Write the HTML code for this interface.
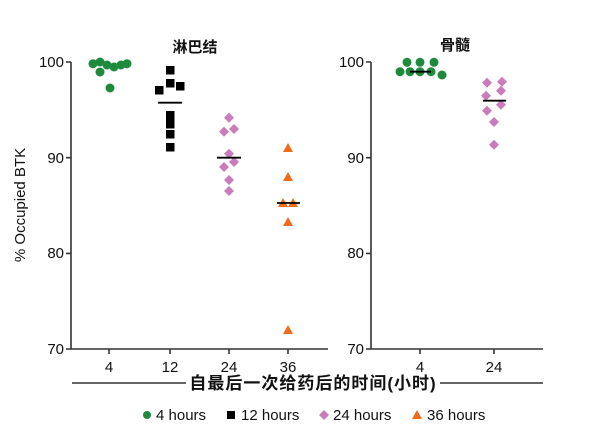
<!DOCTYPE html>
<html><head><meta charset="utf-8"><style>body{margin:0;background:#fff}svg{display:block}</style></head><body>
<svg width="615" height="443" xmlns="http://www.w3.org/2000/svg" font-family="Liberation Sans, Noto Sans CJK SC, sans-serif">
<g stroke="#333" stroke-width="1.6" fill="none">
<path d="M71 62V349H328"/><path d="M371 62V349H543"/>
<path d="M66 62H71M66 157.7H71M66 253.4H71M66 349H71"/>
<path d="M366 62H371M366 157.7H371M366 253.4H371M366 349H371"/>
<path d="M109 349v5M170 349v5M229 349v5M288 349v5M420 349v5M494 349v5"/>
</g>
<g font-size="15" fill="#111" text-anchor="end">
<text x="64" y="67">100</text><text x="64" y="163">90</text><text x="64" y="258">80</text><text x="64" y="354">70</text>
<text x="364" y="67">100</text><text x="364" y="163">90</text><text x="364" y="258">80</text><text x="364" y="354">70</text>
</g>
<g font-size="15" fill="#111" text-anchor="middle">
<text x="109" y="372">4</text><text x="170" y="372">12</text><text x="229" y="372">24</text><text x="288" y="372">36</text>
<text x="420" y="372">4</text><text x="494" y="372">24</text>
<text x="195" y="52" font-weight="bold" font-size="15">淋巴结</text>
<text x="455" y="50" font-weight="bold" font-size="15">骨髓</text>
</g>
<text transform="translate(25,205) rotate(-90)" font-size="15" text-anchor="middle" fill="#111">% Occupied BTK</text>
<path d="M72 383H186M440 383H543" stroke="#333" stroke-width="1.5"/>
<text x="313" y="389" font-size="17" letter-spacing="1" font-weight="bold" text-anchor="middle" fill="#111">自最后一次给药后的时间(小时)</text>
<g fill="#1e8a3c">
<circle cx="93" cy="63.7" r="4.5"/><circle cx="100" cy="62" r="4.5"/><circle cx="107" cy="65" r="4.5"/><circle cx="114" cy="67" r="4.5"/><circle cx="121" cy="65" r="4.5"/><circle cx="127" cy="63.7" r="4.5"/><circle cx="100" cy="72" r="4.5"/><circle cx="110" cy="88" r="4.5"/>
<circle cx="400" cy="71.7" r="4.5"/><circle cx="407" cy="62.3" r="4.5"/><circle cx="420" cy="62.3" r="4.5"/><circle cx="434" cy="62.3" r="4.5"/><circle cx="410" cy="71.7" r="4.5"/><circle cx="420" cy="71.7" r="4.5"/><circle cx="431" cy="71.7" r="4.5"/><circle cx="442" cy="75" r="4.5"/>
</g>
<g fill="#000">
<rect x="155" y="86" width="8.5" height="8.5"/><rect x="166" y="66" width="8.5" height="8.5"/><rect x="166" y="79" width="8.5" height="8.5"/><rect x="176" y="82" width="8.5" height="8.5"/>
<rect x="166" y="111" width="8.5" height="8.5"/><rect x="166" y="116" width="8.5" height="8.5"/><rect x="166" y="120" width="8.5" height="8.5"/><rect x="166" y="130" width="8.5" height="8.5"/><rect x="166" y="143" width="8.5" height="8.5"/>
</g>
<g fill="#c97bbb">
<path d="M229 112.7l5 5-5 5-5-5z"/><path d="M224 126.7l5 5-5 5-5-5z"/><path d="M234 124l5 5-5 5-5-5z"/><path d="M229 148.7l5 5-5 5-5-5z"/><path d="M224 162l5 5-5 5-5-5z"/><path d="M234 157l5 5-5 5-5-5z"/><path d="M229 175l5 5-5 5-5-5z"/><path d="M229 186l5 5-5 5-5-5z"/>
<path d="M487 77.7l5 5-5 5-5-5z"/><path d="M502 76.7l5 5-5 5-5-5z"/><path d="M486 90.7l5 5-5 5-5-5z"/><path d="M501 85.7l5 5-5 5-5-5z"/><path d="M487 105.7l5 5-5 5-5-5z"/><path d="M501 99.7l5 5-5 5-5-5z"/><path d="M494 117l5 5-5 5-5-5z"/><path d="M494 139.7l5 5-5 5-5-5z"/>
</g>
<g fill="#f26a1b">
<path d="M288 143l5 9h-10z"/><path d="M288 172l5 9h-10z"/><path d="M283 198l5 9h-10z"/><path d="M293 198l5 9h-10z"/><path d="M288 217l5 9h-10z"/><path d="M288 325l5 9h-10z"/>
</g>
<g stroke="#000" stroke-width="1.8">
<path d="M158 102.7H182M217 157.7H241M277 203H300M410 71.7H431M483 100.7H506"/>
</g>
<g font-size="15" fill="#111">
<circle cx="147" cy="415" r="4" fill="#1e8a3c"/><text x="156" y="420">4 hours</text>
<rect x="227" y="411" width="8" height="8" fill="#000"/><text x="241" y="420">12 hours</text>
<path d="M324 410l5 5-5 5-5-5z" fill="#c97bbb"/><text x="333" y="420">24 hours</text>
<path d="M417 410l5 9h-10z" fill="#f26a1b"/><text x="427" y="420">36 hours</text>
</g>
</svg>
</body></html>
